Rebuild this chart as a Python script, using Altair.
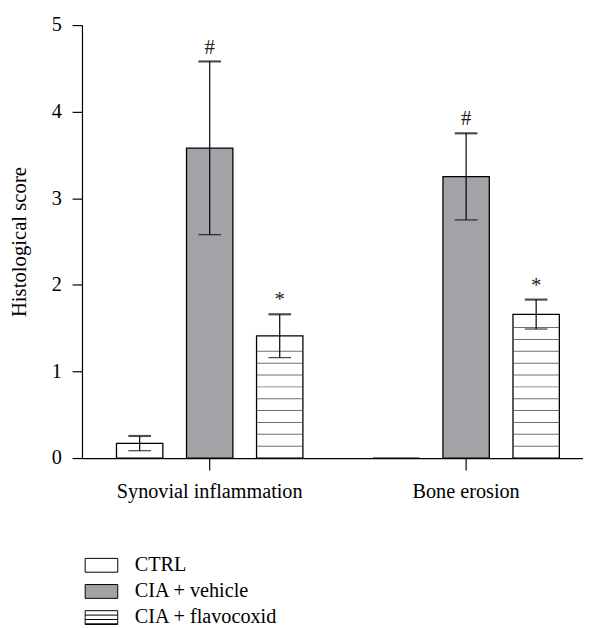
import altair as alt
import pandas as pd

groups = ["Synovial inflammation", "Bone erosion"]
series = ["CTRL", "CIA + vehicle", "CIA + flavocoxid"]
synovial_mean = [0.17, 3.58, 1.41]
synovial_err = [0.085, 1.00, 0.25]
bone_mean = [0.0, 3.25, 1.66]
bone_err = [0.0, 0.50, 0.17]
signif = ["", "#", "*"]
fill_colors = ["#ffffff", "#a2a3a6", "#ffffff"]
y_ticks = [0, 1, 2, 3, 4, 5]

FONT = "Liberation Serif"
FS = 20.5

rows = []
for g, means, errs in [(groups[0], synovial_mean, synovial_err),
                       (groups[1], bone_mean, bone_err)]:
    for s, m, e, sig in zip(series, means, errs, signif):
        rows.append(dict(group=g, series=s, mean=m, lo=m - e, hi=m + e, err=e, sig=sig))
df = pd.DataFrame(rows)

# horizontal hatching inside the flavocoxid bars (a fill pattern, not data)
stripe_step = 0.137
stripes = []
for r in rows:
    if r["series"] == "CIA + flavocoxid":
        k = 1
        while k * stripe_step < r["mean"] - 0.04:
            stripes.append(dict(group=r["group"], series=r["series"], y=k * stripe_step))
            k += 1
stripes_df = pd.DataFrame(stripes)

box = "M-2.36,-1H2.36V1H-2.36Z"
hatched_box = "M-2.36,-1H2.36V1H-2.36Z M-2.36,-0.36H2.36 M-2.36,0.28H2.36 M-2.36,0.9H2.36"
shape_paths = [box, box, hatched_box]

x_enc = alt.X("group:N", sort=groups,
              scale=alt.Scale(domain=groups, range=[0, 519], paddingInner=0.273, paddingOuter=0.1346),
              axis=alt.Axis(title=None, labelAngle=0, tickSize=12, labelPadding=12, labelLimit=0,
                            labelFont=FONT, labelFontSize=FS, labelColor="black",
                            domainColor="black", tickColor="black", domainWidth=1.2, tickWidth=1.2))
xo_enc = alt.XOffset("series:N", sort=series,
                     scale=alt.Scale(domain=series, paddingInner=0.338, paddingOuter=0))

legend = alt.Legend(title=None, orient="none", legendX=9.5, legendY=537.5, direction="vertical",
                    symbolSize=196, symbolStrokeWidth=1,
                    symbolOpacity=1, labelFont=FONT, labelFontSize=FS, labelColor="black",
                    labelOffset=23.5, rowPadding=5.5, padding=0, labelLimit=0)

fill_enc = alt.Fill("series:N", sort=series, scale=alt.Scale(domain=series, range=fill_colors),
                    legend=legend)
stroke_enc = alt.Stroke("series:N", sort=series,
                        scale=alt.Scale(domain=series, range=["black", "black", "black"]),
                        legend=legend)

y_axis = alt.Axis(title="Histological score", values=y_ticks, format="d", tickSize=10, labelPadding=11,
                  labelFont=FONT, labelFontSize=FS, labelColor="black",
                  grid=False, domainColor="black", tickColor="black", domainWidth=1.2, tickWidth=1.2,
                  titleX=-63, titleY=219.5, titleBaseline="middle", titleAlign="center", titleLimit=0,
                  titleFont=FONT, titleFontSize=21, titleFontWeight="normal", titleColor="black")
y_scale = alt.Scale(domain=[0, 5], nice=False, zero=True)

base = alt.Chart(df)

bars = base.mark_bar(strokeWidth=1.3).encode(
    x=x_enc, xOffset=xo_enc,
    y=alt.Y("mean:Q", scale=y_scale, axis=y_axis),
    fill=fill_enc, stroke=stroke_enc,
)

hatch = alt.Chart(stripes_df).mark_tick(orient="horizontal", size=46, thickness=1, color="#333333").encode(
    x=x_enc, xOffset=xo_enc, y=alt.Y("y:Q", scale=y_scale)
)

err_base = base.transform_filter("datum.err > 0")
rules = err_base.mark_rule(color="black", strokeWidth=1.2).encode(
    x=x_enc, xOffset=xo_enc, y=alt.Y("lo:Q", scale=y_scale), y2="hi:Q"
)
cap_hi = err_base.mark_tick(orient="horizontal", size=23, thickness=2.2, color="black").encode(
    x=x_enc, xOffset=xo_enc, y=alt.Y("hi:Q", scale=y_scale)
)
cap_lo = err_base.mark_tick(orient="horizontal", size=23, thickness=1.3, color="black").encode(
    x=x_enc, xOffset=xo_enc, y=alt.Y("lo:Q", scale=y_scale)
)
labels = err_base.mark_text(baseline="bottom", dy=-4, fontSize=21, font=FONT, color="#222222").encode(
    x=x_enc, xOffset=xo_enc, y=alt.Y("hi:Q", scale=y_scale), text="sig:N"
)

legend_pts = base.transform_filter("false").mark_point(filled=True, strokeWidth=1).encode(
    x=x_enc, xOffset=xo_enc, y=alt.Y("mean:Q", scale=y_scale),
    fill=fill_enc, stroke=stroke_enc,
    shape=alt.Shape("series:N", sort=series, scale=alt.Scale(domain=series, range=shape_paths),
                    legend=legend),
)

chart = alt.layer(bars, hatch, rules, cap_hi, cap_lo, labels, legend_pts).properties(
    width=508, height=439,
    padding={"left": 75, "top": 13, "right": 0, "bottom": 168},
    autosize=alt.AutoSizeParams(type="none"),
).configure_view(stroke=None)

chart.save("out.html", embed_options={"renderer": "svg", "actions": False})
